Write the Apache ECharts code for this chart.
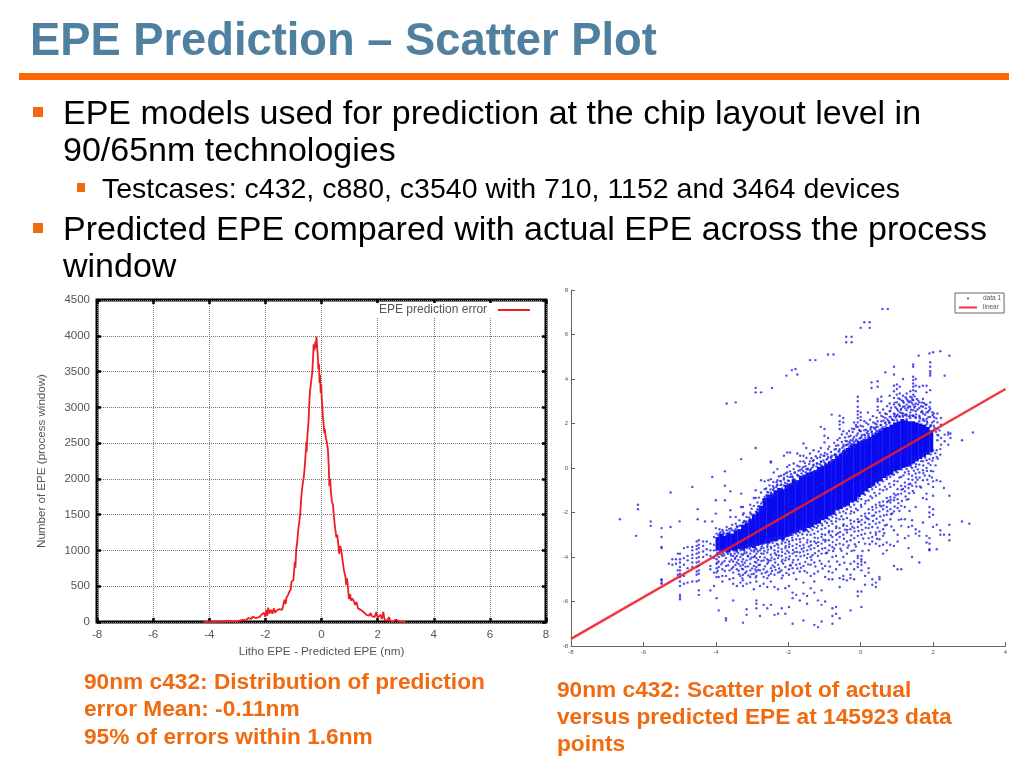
<!DOCTYPE html>
<html><head><meta charset="utf-8">
<style>html,body{margin:0;padding:0;background:#fff}#c{width:1024px;height:768px;filter:blur(0.45px)}</style>
<script src="https://cdn.jsdelivr.net/npm/echarts@6/dist/echarts.min.js"></script>
</head><body><div id="c"></div>
<script>
const titleText = 'EPE Prediction – Scatter Plot';
const bulletLines = [
  ['EPE models used for prediction at the chip layout level in', 63, 115, 34],
  ['90/65nm technologies', 63, 152, 34],
  ['Testcases: c432, c880, c3540 with 710, 1152 and 3464 devices', 102, 190, 28.5],
  ['Predicted EPE compared with actual EPE across the process', 63, 231, 34],
  ['window', 63, 268, 34]
];
const captionLines = [
  ['90nm c432: Distribution of prediction', 84, 683],
  ['error Mean: -0.11nm', 84, 710],
  ['95% of errors within 1.6nm', 84, 738],
  ['90nm c432: Scatter plot of actual', 557, 691],
  ['versus predicted EPE at 145923 data', 557, 718],
  ['points', 557, 745]
];
const histName = 'EPE prediction error';
const histX = [-4.2,-4,-3.8,-3.6,-3.5,-3.3,-3.2,-3,-2.9,-2.8,-2.7,-2.6,-2.5,-2.45,-2.35,-2.3,-2.2,-2.15,-2.1,-2.05,-2,-1.97,-1.93,-1.9,-1.85,-1.8,-1.75,-1.7,-1.65,-1.6,-1.55,-1.5,-1.45,-1.4,-1.35,-1.32,-1.28,-1.25,-1.2,-1.15,-1.1,-1.07,-1.03,-1,-0.97,-0.95,-0.93,-0.9,-0.87,-0.83,-0.8,-0.76,-0.72,-0.68,-0.63,-0.6,-0.57,-0.55,-0.54,-0.53,-0.5,-0.46,-0.43,-0.41,-0.37,-0.33,-0.3,-0.28,-0.25,-0.22,-0.2,-0.18,-0.15,-0.13,-0.11,-0.09,-0.07,-0.05,-0.03,-0.01,0.01,0.03,0.05,0.07,0.1,0.12,0.15,0.2,0.23,0.26,0.28,0.31,0.33,0.37,0.41,0.44,0.48,0.53,0.56,0.6,0.63,0.66,0.7,0.75,0.8,0.85,0.88,0.91,0.95,0.98,1.02,1.05,1.1,1.15,1.2,1.25,1.3,1.35,1.4,1.5,1.6,1.7,1.75,1.8,1.9,1.95,2,2.1,2.15,2.2,2.25,2.35,2.4,2.45,2.55,2.65,2.7,2.8,3];
const histY = [0,5,3,10,6,14,8,12,20,28,25,55,45,75,55,80,70,100,85,130,70,170,90,200,120,170,115,190,130,160,140,180,200,170,260,310,250,340,370,420,450,560,570,590,740,840,760,1020,1100,1280,1380,1500,1750,1900,2030,2150,2330,2420,2520,2380,2620,2820,3100,3220,3360,3480,3700,3880,3800,3920,3830,3990,4000,3700,3530,3610,3340,3450,3200,3320,3120,3000,2860,2800,2640,2700,2580,2500,2400,2150,1900,2000,1850,1680,1640,1480,1330,1180,1220,1080,950,1060,1020,860,720,640,520,610,450,320,390,300,330,290,240,280,190,210,170,140,100,90,125,80,70,140,60,100,40,140,30,20,70,15,5,35,10,3,0];

const fitX = [-8, 4];
const fitY = [-7.68, 3.55];
// solid part of the cloud: x, lowest y, highest y
const denseBand = [
[-3.95,-3.7,-3.1],[-3.85,-3.75,-2.95],[-3.75,-3.7,-3.05],[-3.65,-3.8,-2.9],[-3.55,-3.7,-2.95],[-3.45,-3.75,-2.8],[-3.35,-3.65,-2.75],[-3.25,-3.7,-2.55],[-3.15,-3.6,-2.45],[-3.05,-3.55,-2.3],
[-2.95,-3.6,-2.1],[-2.85,-3.5,-1.95],[-2.75,-3.45,-1.7],[-2.65,-3.4,-1.35],[-2.55,-3.4,-1.2],[-2.45,-3.3,-1.15],[-2.35,-3.3,-1],[-2.25,-3.2,-0.9],[-2.15,-3.25,-0.95],[-2.05,-3.1,-0.75],
[-1.95,-3.05,-0.7],[-1.85,-2.95,-0.5],[-1.75,-2.9,-0.55],[-1.65,-2.8,-0.35],[-1.55,-2.85,-0.3],[-1.45,-2.7,-0.2],[-1.35,-2.65,-0.15],[-1.25,-2.55,-0.1],[-1.15,-2.5,0.05],[-1.05,-2.35,0.1],
[-0.95,-2.3,0.2],[-0.85,-2.15,0.3],[-0.75,-2.1,0.4],[-0.65,-1.9,0.55],[-0.55,-1.85,0.65],[-0.45,-1.75,0.8],[-0.35,-1.7,0.9],[-0.25,-1.55,1.05],[-0.15,-1.5,1.1],[-0.05,-1.3,1.2],
[0.05,-1.2,1.25],[0.15,-1.05,1.3],[0.25,-0.9,1.4],[0.35,-0.8,1.5],[0.45,-0.65,1.6],[0.55,-0.6,1.7],[0.65,-0.45,1.8],[0.75,-0.35,1.85],[0.85,-0.3,1.95],[0.95,-0.15,2.05],
[1.05,-0.1,2.1],[1.15,0,2.2],[1.25,0.05,2.15],[1.35,0.1,2.1],[1.45,0.2,2.1],[1.55,0.3,2.05],[1.65,0.4,2],[1.75,0.5,1.95],[1.85,0.6,1.85],[1.95,0.7,1.7]
];
// single dots above the solid part, each row: x then its y values
const dotsAbove = [
[-3.9,-2.75,-2.95,-3.1],[-3.8,-2.85,-3],[-3.7,-2.65,-2.8,-2.95],[-3.55,-2.55,-2.8],[-3.45,-2.2,-2.5,-2.75],[-3.35,-2.35,-2.6],[-3.25,-1.75,-2.1,-2.45],[-3.15,-2.2,-2.4],[-3.05,-1.65,-2,-2.3],[-2.95,-1.35,-1.7,-2.1],
[-2.85,-1.55,-1.85,-2],[-2.75,-0.55,-1.1,-1.6,-1.8],[-2.65,-0.6,-0.95,-1.3,-1.45],[-2.55,-0.55,-1.1,-1.25],[-2.48,0.25,0.3,-0.5,-1.1,-1.3],[-2.4,-0.2,-0.9,-1.25],[-2.3,-0.05,-0.55,-0.75,-1.1],[-2.2,-0.35,-0.6,-0.95],[-2.12,0.55,-0.3,-0.45,-0.8],[-2.03,0.7,0.05,-0.2,-0.7,-0.9],
[-1.95,0.7,-0.15,-0.4,-0.75],[-1.85,0.2,-0.05,-0.5,-0.7],[-1.75,0.65,0.1,-0.3,-0.6],[-1.67,0.55,0.3,-0.1,-0.4],[-1.58,0.55,1.1,0.3,0.05,-0.35],[-1.5,0.9,0.45,-0.05,-0.3],[-1.4,0.65,0.3,-0.1,-0.3],[-1.3,0.8,0.35,0.15,-0.2],[-1.2,0.45,0.2,-0.1],[-1.1,1.85,0.9,0.6,0.3,0],
[-1,1.75,1.45,1.15,0.55,0.25,0.05],[-0.9,1.35,0.85,0.5,0.15],[-0.8,2.4,0.55,0.35,0.2],[-0.68,1,0.85,0.6,0.45,0.25],[-0.58,2.35,2.1,1.95,1.75,1.35,0.85,0.5],[-0.48,2.25,2.05,1.65,1.05,0.75],[-0.38,1.55,1.2,1.05,0.7],[-0.28,1.45,1.25,1.1,0.9],[-0.18,2.05,1.75,1.4,1.15,0.95],[-0.08,3.2,3,2.75,2.55,2.4,2.25,2.05,1.85,1.55,1.2,1.05],
[0,2.5,2.3,2.15,1.9,1.65,1.35,1.15],[0.1,2.1,1.7,1.5,1.25],[0.2,2.5,1.65,1.45,1.3,1.15],[0.3,3.85,3.6,1.85,1.6,1.35],[0.4,2,1.75,1.55],[0.47,3.9,3.65,3.1,3,2.75,2.6,2.1,1.85,1.65],[0.57,3.2,3,2.35,2.1,1.75],[0.68,4.3,2.45,2.25,2.05,1.85],[0.8,3.25,2.9,2.55,2.3,2.05],[0.92,4.55,4.2,3.7,3.45,3.15,2.85,2.45,2.15],
[1,3.75,3.55,3.3,2.95,2.65,2.35,2.15],[1.08,3.65,3.35,3.1,2.8,2.5,2.3],[1.17,4,3.25,3,2.75,2.45,2.3],[1.27,3.35,3.1,2.85,2.6,2.35,2.2],[1.37,3.45,3.2,3,2.75,2.5,2.25],[1.45,4.65,4.55,4.1,3.95,3.8,3.65,3.5,3.3,3.05,2.85,2.6,2.35],[1.52,4,3.7,3.45,2.9,2.55,2.25],[1.62,3.65,2.95,2.7,2.35,2.1],[1.72,3.7,3.1,2.75,2.45,2.15],[1.82,3.7,3.4,2.85,2.5,2.2,1.95],
[1.92,4.75,4.55,4.35,4.25,4.15,3.5,2.95,2.65,2.3,1.85],[2.02,2.45,2.1,1.9,1.7],[2.12,2.45,2.05,1.75,1.5,1.25],[2.22,2.25,1.95,1.35,1.05],[2.32,4.15,1.5,1.2],[2.42,1.6,1.5,1.05],[2.48,1.55,1.35],[2.8,1.25],[3.1,1.6],
[-3.7,2.9],[-3.45,2.95],[-2.9,3.6],[-2.9,3.4],[-2.75,3.4],[-2.45,3.6],[-2.05,4.15],[-1.9,4.4],[-1.8,4.45],[-1.75,4.2],[-1.4,4.85],[-1.25,4.85],[-0.9,5.1],[-0.75,5.1],[-0.4,5.9],[-0.4,5.65],[-0.25,5.9],[-0.25,5.65],[0,6.3],[0.1,6.55],[0.25,6.55],[0.25,6.3],[0.6,7.15],[0.75,7.15],[1.6,5.05],[1.9,5.15],[2,5.2],[2.2,5.25],[2.45,5.05],
[-6.65,-2.3],[-6.2,-3.05],[-6.15,-1.65,-1.85],[-5.8,-2.4,-2.6],[-5.5,-2.7,-3.1,-3.55,-3.6],[-5.25,-1.1,-2.65],[-5,-2.4],[-4.65,-0.85],[-4.5,-1.85,-2.3],[-4.3,-2.4],[-4.1,-0.4,-2.4],[-4,-1.45,-2.05,-2.7],[-3.75,-0.15,-0.8,-1.45],[-3.6,-1.05,-1.9,-2.2],[-3.3,0.4,-1.15,-1.75],[-2.9,0.9,-1,-1.35]
];
// single dots below the solid part, each row: x then its y values
const dotsBelow = [
[-5.5,-5,-5.05,-5.15,-5.2],[-5.3,-4.3],[-5.2,-4.1,-4.35],[-5.1,-4.1,-4.3],[-5.05,-3.85,-4.6,-4.8],[-4.99,-3.85,-4.1,-4.25,-4.45,-4.6,-4.75,-4.9,-5.1,-5.3,-5.7,-5.8,-5.9],[-4.88,-3.6,-4.05,-4.35,-4.85,-5.2],[-4.78,-3.55,-3.95,-4.15,-4.5,-5.15],[-4.65,-3.55,-3.7,-3.9,-4.05,-4.25,-4.45,-5.1],[-4.53,-3.3,-3.5,-3.65,-3.85,-4.05,-4.25,-4.45,-4.65,-4.8,-5.1],
[-4.47,-3.25,-3.45,-3.6,-3.8,-4,-4.2,-4.4,-4.6,-4.75,-5.05,-5.5,-5.7],[-4.35,-3.3,-3.5,-3.75,-4],[-4.25,-3.3,-3.65,-3.9],[-4.15,-3.4,-3.7,-3.95,-4.4,-4.55,-5.5],[-4.05,-3.1,-3.45,-3.7,-4.05,-4.7,-5.3],[-3.98,-2.95,-3.15,-3.3,-3.5,-3.7,-3.9,-4.1,-4.3,-4.5,-4.7,-4.9,-5.85],[-3.92,-3.35,-3.6,-3.8,-4,-4.2,-4.45,-4.9,-6.4],[-3.82,-3.7,-3.95,-4.25,-4.55,-4.85,-5.1],[-3.72,-3.75,-4.05,-4.4,-4.85,-6.75,-6.85],[-3.62,-3.7,-4.2,-4.6,-5],
[-3.52,-3.7,-3.95,-4.2,-4.45,-4.7,-4.95,-5.2,-5.95],[-3.42,-3.75,-3.95,-4.25,-4.55,-5.3],[-3.32,-3.7,-4,-4.4,-4.85,-5.15],[-3.25,-3.65,-3.9,-4.1,-4.35,-4.55,-4.8,-5.05,-5.3,-6.95],[-3.15,-3.6,-3.8,-4.15,-4.65,-5.2,-6.35,-6.6],[-3.05,-3.55,-3.85,-4.1,-4.3,-4.6,-4.9,-5.15],[-2.95,-3.5,-3.75,-4,-4.4,-4.75,-5.45],[-2.88,-3.45,-3.65,-3.85,-4.05,-4.25,-4.45,-4.65,-4.85,-5.1,-5.95,-6.1,-6.3],[-2.78,-3.4,-3.7,-4,-4.35,-4.6,-5.3,-6.65],[-2.68,-3.4,-3.6,-3.85,-4.15,-4.55,-4.9,-5.2,-6.15],
[-2.58,-3.35,-3.55,-3.8,-4.1,-4.3,-4.65,-4.95,-5.35,-6.3],[-2.48,-3.3,-3.55,-3.9,-4.15,-4.5,-4.75,-5.1,-6.15],[-2.38,-3.25,-3.5,-3.7,-4.1,-4.45,-4.8,-5.35,-6.6],[-2.28,-3.2,-3.45,-3.75,-4.05,-4.35,-4.7,-5.45,-6.55],[-2.18,-3.15,-3.4,-3.65,-3.95,-4.2,-4.6,-4.95,-6.3],[-2.08,-3.1,-3.35,-3.6,-3.85,-4.15,-4.45,-5.4,-6.55],[-1.98,-3.05,-3.3,-3.55,-3.8,-4.1,-4.55,-4.8,-5.3,-6.25],[-1.88,-3,-3.25,-3.5,-3.85,-4.25,-4.5,-5.6,-5.85,-7],[-1.78,-2.95,-3.2,-3.6,-3.95,-4.35,-5,-5.7],[-1.68,-2.9,-3.2,-3.5,-3.8,-4.3,-4.65,-5.95],
[-1.58,-2.85,-3.15,-3.45,-3.75,-4.4,-5.15,-5.65,-6.85],[-1.48,-2.8,-3,-3.35,-3.7,-4.05,-4.7,-5.75,-6.1],[-1.38,-2.7,-3,-3.3,-3.65,-4,-4.35,-4.85,-5.4],[-1.28,-2.65,-2.95,-3.3,-3.6,-4.25,-4.75,-5.1,-5.6,-7.05],[-1.18,-2.6,-2.85,-3.15,-3.5,-3.95,-4.65,-5.95,-7.15],[-1.08,-2.5,-2.75,-3.1,-3.4,-3.85,-4.3,-5.5,-6.15,-6.9],[-0.98,-2.4,-2.7,-3,-3.3,-3.6,-4.4,-4.9,-6],[-0.88,-2.3,-2.6,-2.9,-3.25,-3.7,-4.2,-4.65,-5],[-0.78,-2.2,-2.5,-2.85,-3.1,-3.55,-4,-4.7,-5,-6.3,-6.65,-7],[-0.68,-2.1,-2.4,-2.7,-3,-3.45,-3.95,-4.55,-6.25,-6.55],
[-0.58,-2,-2.3,-2.7,-3.1,-3.4,-4.35,-4.95,-5.35,-6.75],[-0.48,-1.95,-2.3,-2.6,-3,-3.45,-4,-4.85,-5],[-0.38,-1.85,-2.25,-2.6,-2.9,-3.3,-3.85,-4.55,-5.05],[-0.28,-1.75,-2.05,-2.35,-2.75,-3.25,-4.3,-4.8,-4.95,-6.4],[-0.18,-1.65,-2,-2.4,-2.7,-3.15,-3.7,-4.2,-4.55,-5],[-0.08,-1.5,-1.9,-2.3,-2.65,-3.05,-3.95,-4.05,-4.3,-4.45,-5.55,-5.75],[0.02,-1.4,-1.75,-2.15,-2.55,-3,-3.95,-4.1,-4.2,-4.35,-4.6,-5.55,-6.25],[0.12,-1.2,-1.6,-2.05,-2.45,-2.95,-3.4,-4.25,-4.85,-5.25],[0.22,-1.05,-1.45,-1.85,-2.3,-2.7,-3.15,-3.7,-4.5,-4.7],[0.32,-0.95,-1.35,-1.75,-2.15,-2.65,-3.1,-3.3,-5,-5.25],
[0.42,-0.85,-1.25,-1.65,-2,-2.5,-2.9,-3,-3.4,-5.15,-5.35],[0.52,-0.75,-1.15,-1.55,-1.95,-2.45,-2.85,-3.2,-3.5,-4.9,-5],[0.62,-0.6,-1,-1.5,-1.85,-2.35,-2.75,-3.05,-3.45,-3.85],[0.72,-0.5,-0.95,-1.35,-1.75,-2.1,-2.55,-3.35,-3.7],[0.82,-0.4,-0.85,-1.3,-1.55,-1.85,-2.3,-3.45],[0.92,-0.3,-0.75,-1.15,-1.45,-1.95,-2.8,-3.5,-4.4],[1.02,-0.2,-0.6,-0.95,-1.4,-1.8,-3,-3.3,-4.55],[1.12,-0.05,-0.4,-0.8,-1.15,-1.7,-2.3,-2.6,-4.55],[1.22,0.05,-0.2,-0.65,-1.05,-1.75,-2.3,-3.15],[1.32,0.1,-0.15,-0.5,-0.9,-1.4,-2.65,-3.05,-3.6],
[1.42,0.2,0,-0.35,-0.8,-2.35,-2.6,-4],[1.52,0.35,0.05,-0.25,-0.65,-1.75,-2.75,-2.95],[1.62,0.5,0.15,-0.2,-2.85,-3.05,-4.25],[1.72,0.6,0.3,-0.1,-0.55,-1.35,-2.45],[1.82,0.7,0.35,0,-1.15,-1.4,-3.05,-3.35],[1.9,0.8,0.4,-0.35,-1.75,-2,-2.2,-3.15,-3.4,-3.65,-3.7],[2,0.8,0.45,-0.15,-0.6,-0.85,-1.25,-1.85,-2.1,-2.65],[2.1,0.8,0.5,-0.55,-2.55,-3.65],[2.2,0.85,0.6,-0.6,-2.8,-3],[2.3,-0.9,-3],[2.45,-1.25,-2.55,-3,-3.25],[2.8,-2.4],[3,-2.5]
];
// extra dots hugging the solid part, as x,y pairs
const fringeUpper = [-3.93,-3.02,-3.87,-2.88,-3.78,-2.93,-3.71,-3.03,-3.62,-2.86,-3.58,-2.72,-3.49,-2.83,-3.41,-2.66,-3.38,-2.79,-3.31,-2.58,-3.27,-2.68,-3.19,-2.41,-3.13,-2.53,-3.08,-2.22,-3.02,-2.36,-2.98,-2.11,-2.93,-2.24,-2.89,-1.96,-2.83,-1.88,-2.79,-1.72,-2.72,-1.83,-2.69,-1.41,-2.62,-1.48,-2.6,-1.22,-2.53,-1.31,-2.49,-0.96,-2.44,-1.18,-2.38,-1.07,-2.33,-0.86,-2.27,-0.99,-2.21,-0.76,-2.17,-0.92,-2.09,-0.66,-2.04,-0.83,-1.98,-0.58,-1.92,-0.71,-1.88,-0.42,-1.83,-0.54,-1.77,-0.63,-1.71,-0.36,-1.63,-0.24,-1.6,-0.46,-1.52,-0.19,-1.47,-0.07,-1.43,-0.31,-1.37,-0.04,-1.31,0.11,-1.27,-0.13,-1.22,0.07,-1.13,0.17,-1.08,0.12,-1.03,0.34,-0.97,0.19,-0.92,0.41,-0.86,0.27,-0.81,0.48,-0.77,0.33,-0.71,0.62,-0.66,0.52,-0.61,0.73,-0.53,0.66,-0.51,0.91,-0.44,0.83,-0.41,1.02,-0.33,0.94,-0.31,1.17,-0.23,1.07,-0.21,1.31,-0.14,1.22,-0.11,1.46,-0.03,1.33,0.03,1.48,0.07,1.27,0.13,1.36,0.17,1.58,0.23,1.41,0.27,1.73,0.33,1.52,0.36,1.81,0.43,1.67,0.44,1.96,0.52,1.72,0.55,1.93,0.61,1.82,0.63,2.13,0.71,1.94,0.74,2.18,0.79,2.02,0.83,2.31,0.88,2.16,0.94,2.42,0.97,2.27,1.03,2.58,1.07,2.33,1.12,2.66,1.16,2.36,1.21,2.77,1.26,2.42,1.31,2.71,1.34,2.31,1.39,2.62,1.43,2.36,1.48,2.72,1.53,2.41,1.57,2.63,1.63,2.28,1.67,2.52,1.73,2.21,1.78,2.39,1.83,2.09,1.87,2.28,1.93,1.92,1.97,2.04,2.04,1.81,2.08,1.63,2.14,1.46,2.18,1.69];
const fringeLower = [-3.88,-3.72,-3.79,-3.84,-3.68,-3.79,-3.59,-3.86,-3.47,-3.68,-3.38,-3.82,-3.29,-3.58,-3.21,-3.72,-3.12,-3.47,-3.07,-3.63,-2.99,-3.42,-2.91,-3.58,-2.83,-3.33,-2.73,-3.52,-2.64,-3.28,-2.57,-3.46,-2.52,-3.21,-2.43,-3.36,-2.36,-3.14,-2.32,-3.41,-2.24,-3.09,-2.16,-3.29,-2.11,-3.04,-2.03,-3.22,-1.94,-2.93,-1.89,-3.13,-1.81,-2.83,-1.73,-3.04,-1.66,-2.76,-1.61,-2.98,-1.53,-2.66,-1.44,-2.87,-1.41,-2.56,-1.33,-2.78,-1.26,-2.44,-1.21,-2.69,-1.13,-2.31,-1.06,-2.58,-1.01,-2.23,-0.93,-2.47,-0.86,-2.13,-0.81,-2.38,-0.74,-2.01,-0.67,-2.26,-0.61,-1.88,-0.53,-2.17,-0.46,-1.73,-0.41,-2.03,-0.33,-1.63,-0.26,-1.94,-0.21,-1.52,-0.13,-1.83,-0.06,-1.36,0.01,-1.66,0.07,-1.14,0.14,-1.48,0.19,-0.97,0.27,-1.27,0.33,-0.81,0.38,-1.12,0.47,-0.67,0.53,-0.96,0.58,-0.53,0.67,-0.84,0.73,-0.41,0.79,-0.71,0.87,-0.28,0.93,-0.58,0.98,-0.17,1.07,-0.43,1.13,-0.06,1.18,-0.33,1.27,-0.04,1.33,-0.27,1.38,0.08,1.47,-0.12,1.53,0.17,1.58,-0.06,1.67,0.31,1.73,0.11,1.78,0.47,1.87,0.21,1.93,0.62,1.98,0.33,2.06,0.66,2.13,0.42];
const outerLower = [-3.46,-4.03,-3.37,-4.62,-3.28,-4.21,-3.18,-4.44,-3.11,-3.98,-3.01,-4.77,-2.92,-4.22,-2.83,-4.58,-2.74,-3.84,-2.63,-4.71,-2.54,-4.16,-2.43,-4.38,-2.33,-3.91,-2.23,-4.66,-2.14,-4.29,-2.03,-3.72,-1.93,-4.38,-1.83,-3.78,-1.73,-4.12,-1.63,-3.64,-1.53,-4.22,-1.43,-3.53,-1.33,-3.92,-1.23,-3.38,-1.13,-4.17,-1.03,-3.22,-0.93,-3.81,-0.83,-3.02,-0.73,-3.62,-0.63,-2.93,-0.53,-3.72,-0.43,-2.77,-0.33,-3.48,-0.23,-2.64,-0.13,-3.53,-0.03,-2.41,0.07,-3.17,0.17,-2.26,0.27,-2.91,0.37,-2.13,0.47,-2.68,0.57,-1.73,0.67,-2.58,0.77,-1.47,0.87,-2.04,0.97,-1.23,1.07,-1.93,1.17,-0.94,1.27,-1.42,1.37,-0.71,1.47,-1.12,1.57,-0.53,1.67,-0.88,1.77,-0.34,1.87,-0.72,1.97,-0.43,2.07,0.12];
const outerUpper = [-3.23,-2.03,-3.01,-1.83,-2.81,-1.33,-2.61,-0.92,-2.41,-0.63,-2.26,-0.38,-2.07,-0.24,-1.97,0.13,-1.82,-0.19,-1.69,0.06,-1.54,0.22,-1.36,0.44,-1.24,0.53,-1.16,0.74,-0.99,0.68,-0.87,0.96,-0.73,1.13,-0.64,1.26,-0.52,1.51,-0.43,1.37,-0.32,1.66,-0.24,1.77,-0.13,1.93,-0.04,1.71,0.06,1.87,0.16,2.02,0.26,2.17,0.34,2.33,0.44,2.26,0.53,2.48,0.62,2.63,0.73,2.78,0.84,2.71,0.94,2.94,1.04,3.13,1.14,3.04,1.24,3.18,1.33,2.96,1.41,3.17,1.49,3.22,1.59,3.03,1.69,2.94,1.79,2.84,1.89,2.58,1.99,2.37,2.09,2.23];
const fieldLower = [-3.96,-3.83,-3.96,-4.26,-3.95,-4.62,-3.86,-3.88,-3.85,-4.33,-3.77,-3.92,-3.76,-4.18,-3.75,-4.63,-3.67,-3.86,-3.66,-4.37,-3.58,-3.94,-3.57,-4.12,-3.56,-4.53,-3.48,-3.84,-3.47,-4.08,-3.46,-4.36,-3.38,-4.13,-3.37,-4.31,-3.36,-4.77,-3.29,-3.88,-3.28,-4.53,-3.27,-4.96,-3.21,-3.83,-3.2,-4.26,-3.19,-4.72,-3.12,-3.94,-3.11,-4.42,-3.1,-4.83,-3.02,-3.71,-3.01,-4.02,-3,-4.51,-2.93,-3.67,-2.92,-3.95,-2.91,-4.56,-2.9,-4.92,-2.84,-3.75,-2.83,-4.13,-2.82,-4.36,-2.75,-3.62,-2.74,-4.18,-2.73,-4.74,-2.66,-3.73,-2.65,-4.02,-2.64,-4.42,-2.56,-3.67,-2.55,-4.23,-2.54,-4.83,-2.47,-3.62,-2.46,-4.03,-2.45,-4.63,-2.37,-3.83,-2.36,-4.25,-2.35,-4.58,-2.27,-3.58,-2.26,-3.93,-2.25,-4.52,-2.17,-3.78,-2.16,-4.12,-2.15,-4.83,-2.07,-3.52,-2.06,-4.03,-2.05,-4.72,-1.97,-3.43,-1.96,-3.97,-1.95,-4.37,-1.87,-3.68,-1.86,-4.13,-1.85,-4.72,-1.77,-3.43,-1.76,-3.77,-1.75,-4.52,-1.67,-3.33,-1.66,-3.97,-1.65,-4.48,-1.57,-3.58,-1.56,-3.93,-1.55,-4.63,-1.47,-3.23,-1.46,-3.87,-1.45,-4.33,-1.37,-3.47,-1.36,-4.13,-1.27,-3.13,-1.26,-3.83,-1.25,-4.43,-1.17,-3.33,-1.16,-3.73,-1.07,-2.98,-1.06,-3.63,-1.05,-4.52,-0.97,-3.23,-0.96,-3.83,-0.87,-2.83,-0.86,-3.47,-0.85,-4.43,-0.77,-3.33,-0.76,-3.73,-0.67,-2.63,-0.66,-3.23,-0.65,-4.2,-0.57,-2.88,-0.56,-3.63,-0.47,-2.53,-0.46,-3.18,-0.45,-4.26,-0.37,-2.78,-0.36,-3.58,-0.27,-2.5,-0.26,-3.03,-0.25,-3.73,-0.17,-2.85,-0.16,-3.43,-0.07,-2.43,-0.06,-2.83,-0.05,-3.33,0.03,-2.33,0.04,-2.78,0.05,-3.73,0.13,-2.18,0.14,-2.68,0.23,-2.03,0.24,-2.53,0.25,-3.43,0.33,-1.88,0.34,-2.38,0.43,-1.78,0.44,-2.28,0.45,-3.18,0.53,-1.68,0.54,-2.18,0.63,-1.68,0.64,-2.13,0.65,-2.93,0.73,-1.53,0.74,-1.93,0.83,-1.43,0.84,-2.08,0.85,-2.63,0.93,-1.33,0.94,-1.73,1.03,-1.18,1.04,-1.58,1.05,-2.33,1.13,-0.98,1.14,-1.48,1.23,-0.83,1.24,-1.28,1.33,-0.73,1.34,-1.13,1.35,-1.93,1.43,-0.53,1.44,-1.03,1.53,-0.43,1.54,-0.83,1.63,-0.43,1.64,-0.83,1.73,-0.23,1.83,-0.13,1.84,-0.53,1.93,0.13,1.94,-0.13];
const edgeUpper = [-3.82,-2.78,-3.63,-2.74,-3.42,-2.62,-3.22,-2.38,-3.03,-2.08,-2.83,-1.73,-2.71,-1.53,-2.58,-1.08,-2.42,-0.98,-2.31,-0.78,-2.19,-0.74,-2.01,-0.56,-1.89,-0.38,-1.74,-0.34,-1.59,-0.13,-1.46,-0.03,-1.33,0.03,-1.21,0.21,-1.09,0.27,-0.94,0.38,-0.83,0.46,-0.72,0.57,-0.59,0.78,-0.47,0.97,-0.34,1.06,-0.22,1.22,-0.12,1.28,0.02,1.39,0.11,1.47,0.22,1.53,0.31,1.64,0.42,1.83,0.56,1.92,0.68,2.02,0.77,2.11,0.86,2.21,0.93,2.33,1.02,2.39,1.13,2.47,1.22,2.38,1.36,2.36,1.46,2.33,1.52,2.28,1.64,2.22,1.76,2.12,1.84,2.03,1.94,1.91,0.62,2.3,0.72,2.42,0.82,2.58,0.96,2.73,1.06,2.86,1.11,2.62,1.19,2.93,1.23,2.68,1.3,3.02,1.33,2.77,1.41,2.93,1.43,3.08,1.5,2.78,1.55,3.1,1.58,2.86,1.67,2.78,1.7,2.55,1.75,2.92,1.8,2.68,1.86,2.52,1.9,2.74,1.98,2.51,2.03,2.28,0.15,1.72,0.21,1.96,0.35,2.05,0.28,1.82,-0.02,1.66,-0.12,1.85,-0.22,1.62,-0.33,1.41,-0.42,1.22,-0.52,1.17,-0.62,1.02,-0.72,0.83,-0.82,0.72,-0.92,0.62,-1.02,0.55,-1.12,0.48,-1.32,0.31,-1.42,0.18,-1.52,0.08,-1.62,-0.03,-1.72,-0.12,-1.82,-0.22,-1.92,-0.28,-2.02,-0.38,-2.12,-0.52,-2.22,-0.58,-2.32,-0.64,-2.42,-0.82,-2.52,-0.78];

const dots = [];
[dotsAbove, dotsBelow].forEach(rows => rows.forEach(r => r.slice(1).forEach(y => dots.push([r[0], y]))));
[fringeUpper, fringeLower, outerLower, outerUpper, fieldLower, edgeUpper].forEach(a => { for (let i = 0; i < a.length; i += 2) dots.push([a[i], a[i+1]]); });

const grey = '#555';
const body = '"Liberation Sans",Arial,sans-serif';
const label = (t,x,y,size,color,weight) => ({type:'text',silent:true,z:10,x,y,style:{text:t,x:0,y:0,font:`${weight||'normal'} ${size}px ${body}`,fill:color,verticalAlign:'middle'}});
const square = (x,y,w,h) => ({type:'rect',silent:true,shape:{x,y,width:w,height:h},style:{fill:'#f06a10'}});

const chart = echarts.init(document.getElementById('c'), null, {renderer:'canvas'});
const plain = v => String(v);
const blackTick = {inside:true,length:4,lineStyle:{color:'#000',width:2.5}};
const dotGrid = {show:true,lineStyle:{type:'dotted',color:'#777',width:1}};
chart.setOption({
  animation:false,
  backgroundColor:'#fff',
  textStyle:{fontFamily:body},
  graphic:[
    label(titleText,30,43,45.3,'#5080a0','bold'),
    {type:'rect',silent:true,shape:{x:19,y:73,width:990,height:7},style:{fill:'#ff6600'}},
    square(33,107,10,10), square(77,183,8,9), square(33,223,10,10),
    ...bulletLines.map(l=>label(l[0],l[1],l[2],l[3],'#000')),
    ...captionLines.map(l=>label(l[0],l[1],l[2],22.7,'#f06a10','bold'))
  ],
  grid:[
    {left:97,right:478,top:300,bottom:146,show:true,borderColor:'#000',borderWidth:3,backgroundColor:'transparent'},
    {left:571,right:18.5,top:290,bottom:122}
  ],
  legend:[
    {data:[{name:histName,icon:'rect'}],left:373,top:303,padding:[1,7,2,6],itemWidth:32,itemHeight:2,align:'right',itemGap:0,backgroundColor:'#fff',textStyle:{color:grey,fontSize:12,padding:[0,6,0,0]}},
    {data:[{name:'data 1',icon:'circle'},{name:'linear'}],orient:'vertical',left:955,top:293,padding:[2,3,2,3],itemWidth:18,itemHeight:2,itemGap:2,backgroundColor:'#fff',borderColor:'#666',borderWidth:1,borderRadius:0,textStyle:{color:grey,fontSize:6.5,padding:[0,0,0,1]}}
  ],
  xAxis:[
    {gridIndex:0,type:'value',min:-8,max:8,interval:2,name:'Litho EPE - Predicted EPE (nm)',nameLocation:'middle',nameGap:24,nameTextStyle:{color:grey,fontSize:11.7},axisLine:{show:false,onZero:false},axisTick:blackTick,axisLabel:{color:grey,fontSize:11.5,margin:7,showMinLabel:true,showMaxLabel:true},splitLine:dotGrid},
    {gridIndex:0,type:'value',position:'top',min:-8,max:8,interval:2,axisLine:{show:false,onZero:false},axisTick:blackTick,axisLabel:{show:false},splitLine:{show:false}},
    {gridIndex:1,type:'value',min:-8,max:4,interval:2,axisLine:{onZero:false,lineStyle:{color:'#666',width:1}},axisTick:{inside:true,length:4,lineStyle:{color:'#666'}},axisLabel:{color:grey,fontSize:6,margin:3,showMinLabel:true,showMaxLabel:true},splitLine:{show:false}}
  ],
  yAxis:[
    {gridIndex:0,type:'value',min:0,max:4500,interval:500,name:'Number of EPE (process window)',nameLocation:'middle',nameGap:49,nameTextStyle:{color:grey,fontSize:11.6},axisLine:{show:false,onZero:false},axisTick:blackTick,axisLabel:{color:grey,fontSize:11.5,margin:7,showMinLabel:true,showMaxLabel:true,formatter:plain},splitLine:dotGrid},
    {gridIndex:0,type:'value',position:'right',min:0,max:4500,interval:500,axisLine:{show:false,onZero:false},axisTick:blackTick,axisLabel:{show:false},splitLine:{show:false}},
    {gridIndex:1,type:'value',min:-8,max:8,interval:2,axisLine:{onZero:false,lineStyle:{color:'#666',width:1}},axisTick:{inside:true,length:4,lineStyle:{color:'#666'}},axisLabel:{color:grey,fontSize:6,margin:3,showMinLabel:true,showMaxLabel:true},splitLine:{show:false}}
  ],
  series:[
    {name:histName,type:'line',xAxisIndex:0,yAxisIndex:0,showSymbol:false,symbol:'none',data:histX.map((x,i)=>[x,histY[i]]),lineStyle:{color:'#ef1c24',width:1.8},itemStyle:{color:'#ef1c24'},z:5},
    {name:'data 1',type:'custom',xAxisIndex:2,yAxisIndex:2,data:denseBand,encode:{x:0,y:[1,2]},clip:true,z:2,
      renderItem:(params,api)=>{
        const lo=api.coord([api.value(0)-0.055,api.value(1)]);
        const hi=api.coord([api.value(0)+0.055,api.value(2)]);
        return {type:'rect',shape:{x:lo[0],y:hi[1],width:hi[0]-lo[0],height:lo[1]-hi[1]},style:{fill:'#0a0af0'}};
      },itemStyle:{color:'#3a3ae8'}},
    {name:'data 1',type:'scatter',xAxisIndex:2,yAxisIndex:2,data:dots,symbolSize:2.4,large:false,itemStyle:{color:'#2020e6',opacity:0.8},z:3},
    {name:'linear',type:'line',xAxisIndex:2,yAxisIndex:2,showSymbol:false,symbol:'none',data:fitX.map((x,i)=>[x,fitY[i]]),lineStyle:{color:'#ee1c25',width:2.4,opacity:0.88},itemStyle:{color:'#ee1c25'},z:6}
  ]
});
</script></body></html>
